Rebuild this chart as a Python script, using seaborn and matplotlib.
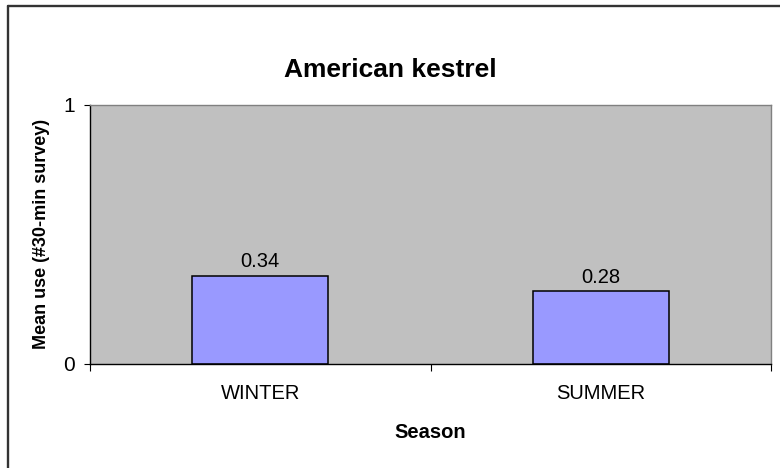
import seaborn as sns
import matplotlib.pyplot as plt
from matplotlib.lines import Line2D
import pandas as pd

# American kestrel mean use by season
seasons = ['WINTER', 'SUMMER']
mean_use = [0.34, 0.28]

df = pd.DataFrame({'Season': seasons, 'use': mean_use})

sns.set_style('white')
plt.rcParams['font.family'] = ['Liberation Sans', 'DejaVu Sans']
plt.rcParams.update({'text.color': 'black', 'axes.labelcolor': 'black',
                     'xtick.color': 'black', 'ytick.color': 'black'})

fig = plt.figure(figsize=(7.8, 4.68), dpi=100)
ax = fig.add_axes([90/780, 1 - 363.5/468, 681/780, 258.5/468])
ax.set_facecolor('#C0C0C0')

sns.barplot(data=df, x='Season', y='use', color='#9999FF', saturation=1,
            edgecolor='black', linewidth=1.1, width=0.4, errorbar=None, ax=ax)

for c in ax.containers:
    ax.bar_label(c, labels=[f'{v:.2f}' for v in mean_use], padding=3, fontsize=14.5, color='black')

ax.set_xlim(-0.5, 1.5)
ax.set_ylim(0, 1)
ax.set_yticks([0, 1])
ax.set_yticklabels(['0', '1'], fontsize=15)
ax.tick_params(axis='y', direction='out', length=4, width=0.8, color='black', pad=7, left=True)

# category labels centred, tick marks between categories
ax.set_xticks([0, 1])
ax.set_xticklabels(seasons, fontsize=14.5)
ax.set_xticks([-0.5, 0.5, 1.5], minor=True)
ax.tick_params(axis='x', which='major', length=0, pad=15)
ax.tick_params(axis='x', which='minor', direction='out', length=5, width=0.8, color='black', bottom=True)

for s in ['left', 'bottom']:
    ax.spines[s].set_color('black')
    ax.spines[s].set_linewidth(1)
for s in ['top', 'right']:
    ax.spines[s].set_color('#808080')
    ax.spines[s].set_linewidth(1)

ax.set_xlabel('Season', fontsize=14.5, fontweight='bold', va='center')
ax.xaxis.set_label_coords(0.5, (363.5 - 432) / 258.5)
ax.set_ylabel('Mean use (#30-min survey)', fontsize=13, fontweight='bold', va='center')
ax.yaxis.set_label_coords((42 - 90) / 681, 0.5)

fig.text(0.5, 1 - 70/468, 'American kestrel', ha='center', va='center',
         fontsize=19, fontweight='bold')

# outer chart frame (left and top edges visible)
fig.add_artist(Line2D([8/780, 8/780], [0, 1 - 6/468], color='#333333', lw=1.7))
fig.add_artist(Line2D([8/780, 1], [1 - 6/468, 1 - 6/468], color='#333333', lw=1.7))

fig.savefig('out.png', dpi=100)
